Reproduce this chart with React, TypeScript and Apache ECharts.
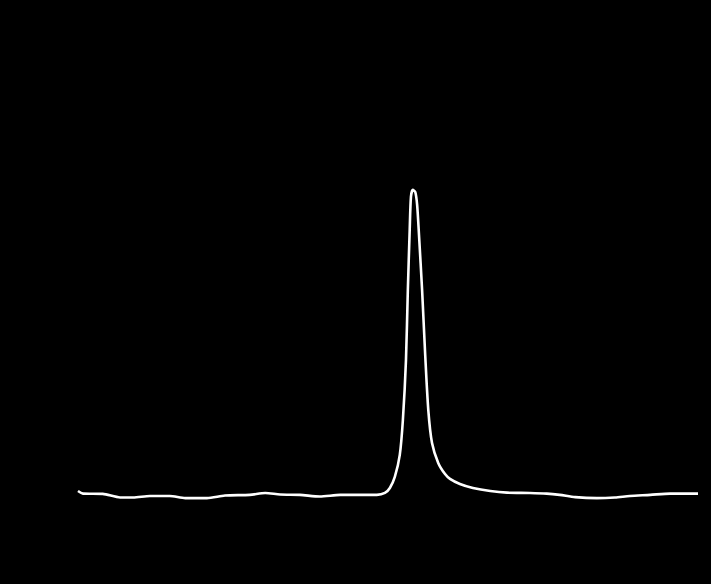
import React, { useEffect, useRef } from "react";
import * as echarts from "echarts";

// x positions (arbitrary units 0..100) and intensity values (0..100)
const xValues: number[] = [
  0, 0.8, 4.0, 6.8, 8.9, 11.6, 14.8, 17.3, 20.8, 23.7, 27.7, 30.2, 32.6, 35.8, 39.0, 42.3, 48.2,
  49.5, 50.3, 51.1, 51.9, 52.4, 52.9, 53.2, 53.5, 53.7, 54.0, 54.4, 54.7, 55.0, 55.5, 56.0, 56.5,
  57.1, 58.1, 59.2, 60.0, 61.6, 63.7, 66.5, 69.2, 72.9, 75.6, 77.7, 80.2, 83.7, 86.6, 89.0, 92.3,
  95.5, 100,
];
const yValues: number[] = [
  2.8, 2.0, 1.9, 0.8, 0.8, 1.25, 1.25, 0.6, 0.6, 1.4, 1.6, 2.2, 1.7, 1.6, 1.1, 1.6, 1.6,
  2.2, 3.75, 7.2, 14.1, 25, 43.8, 65.6, 84.4, 94.7, 96.9, 96.25, 92.2, 82.8, 65.6, 45.3, 28.1,
  17.8, 11.6, 8.1, 6.6, 5.0, 3.75, 2.8, 2.3, 2.2, 2.0, 1.6, 0.9, 0.6, 0.8, 1.25, 1.6,
  2.0, 2.0,
];

export default function App() {
  const ref = useRef<HTMLDivElement>(null);
  useEffect(() => {
    document.body.style.margin = "0";
    document.body.style.background = "#000";
    if (!ref.current) return;
    const chart = echarts.init(ref.current, null, { renderer: "svg" });
    chart.setOption({
      animation: false,
      backgroundColor: "#000",
      grid: { left: 78, right: 13, top: 180, bottom: 84 },
      xAxis: {
        type: "value",
        min: 0,
        max: 100,
        show: false,
      },
      yAxis: {
        type: "value",
        min: 0,
        max: 100,
        show: false,
      },
      series: [
        {
          type: "line",
          data: xValues.map((x, i) => [x, yValues[i]]),
          showSymbol: false,
          smooth: 0.25,
          lineStyle: { color: "#fff", width: 2.6 },
        },
      ],
    });
    return () => chart.dispose();
  }, []);
  return (
    <div
      ref={ref}
      style={{ position: "fixed", left: 0, top: 0, width: 711, height: 584, background: "#000" }}
    />
  );
}
